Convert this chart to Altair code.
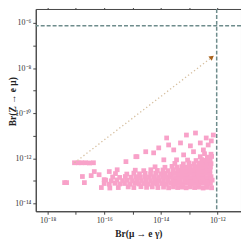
import altair as alt
import pandas as pd

# ---- data (log10 values) ----
x_domain_exp = [-18.42, -11.16]
y_domain_exp = [-14.35, -5.38]

x_tick_exps = [-18, -17, -16, -15, -14, -13, -12, -11]
x_label_exps = [-18, -16, -14, -12]
x_labels = ["10⁻¹⁸", "10⁻¹⁶", "10⁻¹⁴", "10⁻¹²"]
y_tick_exps = [-14, -13, -12, -11, -10, -9, -8, -7, -6]
y_label_exps = [-14, -12, -10, -8, -6]
y_labels = ["10⁻¹⁴", "10⁻¹²", "10⁻¹⁰", "10⁻⁸", "10⁻⁶"]

# experimental bounds (dashed lines)
bound_mueg_exp = -12.02
bound_zemu_exp = -6.125

# arrow (start, end)
arrow_x_exp = [-17.05, -12.21]
arrow_y_exp = [-12.20, -7.54]

# scan points (log10 Br(mu->e gamma), log10 Br(Z->e mu))
cloud_points = [
    # far left
    (-17.40, -13.08), (-17.33, -13.08), (-16.70, -13.08), (-16.77, -12.81), (-16.46, -12.77),
    (-17.05, -12.20), (-16.92, -12.20), (-16.80, -12.20), (-16.66, -12.20), (-16.52, -12.21), (-16.38, -12.20),
    (-16.35, -12.59), (-16.18, -12.73), (-16.00, -12.95), (-15.82, -12.59), (-15.54, -12.51),
    (-15.23, -12.15), (-14.88, -11.93), (-16.10, -13.30), (-15.80, -13.32), (-15.50, -13.30),
    # bottom row
    (-15.15, -13.27), (-14.95, -13.30), (-14.70, -13.26), (-14.50, -13.29), (-14.30, -13.27),
    (-14.10, -13.30), (-13.90, -13.28), (-13.72, -13.31), (-13.55, -13.27), (-13.40, -13.30),
    (-13.25, -13.28), (-13.10, -13.31), (-12.95, -13.27), (-12.80, -13.30), (-12.65, -13.28),
    (-12.50, -13.32), (-12.35, -13.29), (-12.20, -13.31),
    # row B
    (-16.00, -13.12), (-15.82, -13.15), (-15.62, -13.11), (-15.45, -13.14), (-15.28, -13.12),
    (-15.10, -13.15), (-14.92, -13.11), (-14.76, -13.14), (-14.60, -13.12), (-14.44, -13.15),
    (-14.28, -13.11), (-14.12, -13.14), (-13.96, -13.12), (-13.80, -13.15), (-13.65, -13.11),
    (-13.50, -13.14), (-13.36, -13.12), (-13.22, -13.15), (-13.08, -13.11), (-12.94, -13.14),
    (-12.80, -13.12), (-12.66, -13.15), (-12.52, -13.11), (-12.38, -13.14), (-12.24, -13.12),
    # row C
    (-15.95, -12.97), (-15.75, -13.00), (-15.55, -12.96), (-15.35, -12.99), (-15.18, -12.97),
    (-15.00, -13.00), (-14.84, -12.96), (-14.68, -12.99), (-14.52, -12.97), (-14.36, -13.00),
    (-14.20, -12.96), (-14.05, -12.99), (-13.90, -12.97), (-13.74, -13.00), (-13.58, -12.96),
    (-13.44, -12.99), (-13.30, -12.97), (-13.15, -13.00), (-13.01, -12.96), (-12.87, -12.99),
    (-12.73, -12.97), (-12.59, -13.00), (-12.45, -12.96), (-12.31, -12.99), (-12.18, -12.97),
    # row D
    (-15.70, -12.83), (-15.45, -12.85), (-15.25, -12.81), (-15.05, -12.84), (-14.88, -12.82),
    (-14.72, -12.85), (-14.56, -12.81), (-14.40, -12.84), (-14.24, -12.82), (-14.08, -12.85),
    (-13.93, -12.81), (-13.78, -12.84), (-13.63, -12.82), (-13.48, -12.85), (-13.34, -12.81),
    (-13.20, -12.84), (-13.06, -12.82), (-12.92, -12.85), (-12.78, -12.81), (-12.64, -12.84),
    (-12.50, -12.82), (-12.36, -12.85), (-12.22, -12.82),
    # row E
    (-15.60, -12.68), (-15.20, -12.70), (-14.95, -12.66), (-14.75, -12.69), (-14.55, -12.67),
    (-14.36, -12.70), (-14.18, -12.66), (-14.00, -12.69), (-13.84, -12.67), (-13.68, -12.70),
    (-13.52, -12.66), (-13.38, -12.69), (-13.24, -12.67), (-13.10, -12.70), (-12.96, -12.66),
    (-12.82, -12.69), (-12.68, -12.67), (-12.54, -12.70), (-12.40, -12.66), (-12.26, -12.69),
    # row F
    (-14.90, -12.53), (-14.60, -12.55), (-14.35, -12.51), (-14.12, -12.54), (-13.92, -12.52),
    (-13.74, -12.55), (-13.56, -12.51), (-13.40, -12.54), (-13.25, -12.52), (-13.10, -12.55),
    (-12.96, -12.51), (-12.82, -12.54), (-12.68, -12.52), (-12.54, -12.55), (-12.40, -12.51),
    (-12.26, -12.54),
    # row G
    (-14.20, -12.38), (-13.85, -12.40), (-13.60, -12.36), (-13.42, -12.39), (-13.25, -12.37),
    (-13.10, -12.40), (-12.95, -12.36), (-12.80, -12.39), (-12.66, -12.37), (-12.52, -12.40),
    (-12.38, -12.36), (-12.24, -12.39),
    # row H
    (-13.50, -12.23), (-13.20, -12.25), (-13.00, -12.21), (-12.82, -12.24), (-12.65, -12.22),
    (-12.50, -12.25), (-12.36, -12.21), (-12.22, -12.24),
    # rows I-K
    (-13.05, -12.08), (-12.75, -12.10), (-12.55, -12.06), (-12.40, -12.09), (-12.25, -12.07),
    (-12.60, -11.93), (-12.35, -11.95), (-12.20, -11.92), (-12.45, -11.80), (-12.22, -11.82),
    # upper scatter
    (-13.79, -11.10), (-13.09, -10.97), (-12.77, -10.88), (-12.14, -10.97), (-13.30, -11.32),
    (-13.72, -11.41), (-14.53, -11.71), (-14.25, -11.76), (-14.84, -11.93), (-12.60, -11.32),
    (-12.39, -11.10), (-14.07, -11.54), (-13.54, -11.63), (-12.95, -11.45), (-12.32, -11.41),
    (-13.19, -11.85), (-12.84, -11.71), (-12.49, -11.63), (-12.21, -11.23), (-13.44, -12.07),
    (-13.89, -12.07),
]

# ---- tables ----
cloud = pd.DataFrame(
    {"x": [10 ** p[0] for p in cloud_points], "y": [10 ** p[1] for p in cloud_points]}
)
arrow = pd.DataFrame(
    {"x": [10 ** v for v in arrow_x_exp], "y": [10 ** v for v in arrow_y_exp], "o": [0, 1]}
)
head = arrow.iloc[[1]]
hline = pd.DataFrame({"y": [10 ** bound_zemu_exp]})
vline = pd.DataFrame({"x": [10 ** bound_mueg_exp]})


def label_expr(exps, labels):
    expr = "''"
    for e, l in zip(exps, labels):
        expr = f"round(log(datum.value)/LN10) == {e} ? '{l}' : ({expr})"
    return expr


FONT = "Liberation Serif"

xscale = alt.Scale(type="log", domain=[10 ** x_domain_exp[0], 10 ** x_domain_exp[1]], nice=False)
yscale = alt.Scale(type="log", domain=[10 ** y_domain_exp[0], 10 ** y_domain_exp[1]], nice=False)

xaxis = alt.Axis(
    title="Br(μ → e γ)",
    values=[10 ** e for e in x_tick_exps],
    labelExpr=label_expr(x_label_exps, x_labels),
    grid=False,
    tickSize=3,
    labelPadding=2,
    titlePadding=4,
)
yaxis = alt.Axis(
    title="Br(Z → e μ)",
    values=[10 ** e for e in y_tick_exps],
    labelExpr=label_expr(y_label_exps, y_labels),
    grid=False,
    tickSize=3,
    labelPadding=2,
    titleX=-18,
    titleY=93,
)
xaxis_top = alt.Axis(
    orient="top", values=[10 ** e for e in x_tick_exps], labels=False, title=None,
    grid=False, tickSize=2, domain=False,
)
yaxis_right = alt.Axis(
    orient="right", values=[10 ** e for e in y_tick_exps], labels=False, title=None,
    grid=False, tickSize=2, domain=False,
)

points = alt.Chart(cloud).mark_square(size=23, color="#f8a2c9", opacity=1).encode(
    x=alt.X("x:Q", scale=xscale, axis=xaxis),
    y=alt.Y("y:Q", scale=yscale, axis=yaxis),
)

arrow_line = alt.Chart(arrow).mark_line(
    color="#d6bf9f", strokeWidth=1.3, strokeDash=[1.3, 2.5]
).encode(
    x=alt.X("x:Q", scale=xscale, axis=xaxis_top),
    y=alt.Y("y:Q", scale=yscale, axis=yaxis_right),
    order="o:Q",
)

arrow_head = alt.Chart(head).mark_point(
    shape="triangle", filled=True, size=30, color="#a8621c", angle=52, opacity=1
).encode(x=alt.X("x:Q", axis=None), y=alt.Y("y:Q", axis=None))

h_rule = alt.Chart(hline).mark_rule(color="#6e8c8c", strokeWidth=1.5, strokeDash=[4, 2]).encode(
    y=alt.Y("y:Q", axis=None)
)
v_rule = alt.Chart(vline).mark_rule(color="#6e8c8c", strokeWidth=1.5, strokeDash=[4, 2]).encode(
    x=alt.X("x:Q", axis=None)
)

chart = (
    alt.layer(points, arrow_line, arrow_head, h_rule, v_rule)
    .resolve_axis(x="independent", y="independent")
    .properties(
        width=207,
        height=204,
        autosize=alt.AutoSizeParams(type="none"),
        padding={"left": 28, "top": 0, "right": 0, "bottom": 27},
    )
    .configure_view(stroke="#444", strokeWidth=1)
    .configure_axis(
        labelFont=FONT,
        titleFont=FONT,
        labelFontSize=8,
        labelColor="#333",
        titleFontSize=9.5,
        titleFontWeight="bold",
        titleColor="#222",
        domainColor="#444",
        tickColor="#444",
    )
)

chart.save("out.html", embed_options={"renderer": "svg", "actions": False})
